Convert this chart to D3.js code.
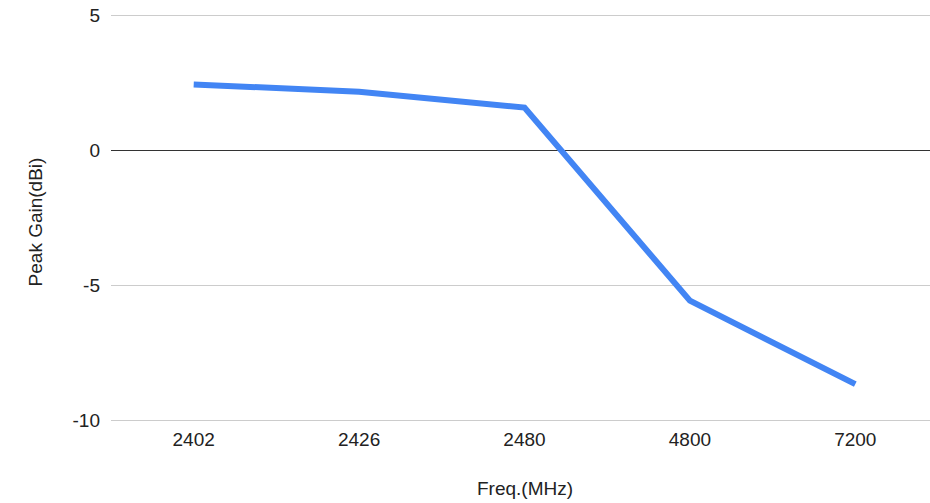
<!DOCTYPE html>
<html>
<head>
  <meta charset="utf-8" />
  <title>Peak Gain</title>
  <script type="text/javascript" src="https://cdn.jsdelivr.net/npm/d3@7"></script>
  <style type="text/css">
  body {
    margin: 0;
    background: #fff;
    font-family: Arial, "Liberation Sans", Helvetica, sans-serif;
  }

  text {
    font-size: 19px;
    fill: #222;
  }

  .grid line {
    stroke: #ccc;
    stroke-width: 1px;
    shape-rendering: crispedges;
  }

  .grid line.zero {
    stroke: #333;
  }
  </style>
</head>
<body>
  <script type="text/javascript">
    var freqs = ['2402', '2426', '2480', '4800', '7200'],
        gains = [2.43, 2.16, 1.57, -5.58, -8.67],
        yTicks = [5, 0, -5, -10]

    var w = 930,
        h = 503,
        x = d3.scalePoint().domain(freqs).range([111, 938]).padding(0.5),
        y = d3.scaleLinear().domain([-10, 5]).range([420, 15])

    var svg = d3.select(document.body)
      .append('svg')
      .attr('width', w)
      .attr('height', h)

    var grid = svg.append('g').attr('class', 'grid')

    grid.selectAll('line')
      .data(yTicks)
    .enter().append('line')
      .attr('class', function(d) { return d === 0 ? 'zero' : null })
      .attr('x1', 111)
      .attr('x2', w)
      .attr('y1', function(d) { return Math.round(y(d)) + 0.5 })
      .attr('y2', function(d) { return Math.round(y(d)) + 0.5 })

    // zero line drawn last so it sits on top
    grid.select('line.zero').raise()

    svg.append('g').selectAll('text')
      .data(yTicks)
    .enter().append('text')
      .attr('x', 100)
      .attr('y', function(d) { return y(d) })
      .attr('dy', '0.36em')
      .attr('text-anchor', 'end')
      .text(function(d) { return d })

    svg.append('g').selectAll('text')
      .data(freqs)
    .enter().append('text')
      .attr('x', function(d) { return x(d) })
      .attr('y', 446)
      .attr('text-anchor', 'middle')
      .text(function(d) { return d })

    var line = d3.line()
      .x(function(d, i) { return x(freqs[i]) })
      .y(function(d) { return y(d) })

    svg.append('path')
      .datum(gains)
      .attr('d', line)
      .attr('fill', 'none')
      .attr('stroke', '#4285f4')
      .attr('stroke-width', 6)
      .attr('stroke-linejoin', 'miter')

    svg.append('text')
      .attr('x', 525)
      .attr('y', 495)
      .attr('text-anchor', 'middle')
      .text('Freq.(MHz)')

    svg.append('text')
      .attr('transform', 'translate(42, 222) rotate(-90)')
      .attr('text-anchor', 'middle')
      .text('Peak Gain(dBi)')
  </script>
</body>
</html>
